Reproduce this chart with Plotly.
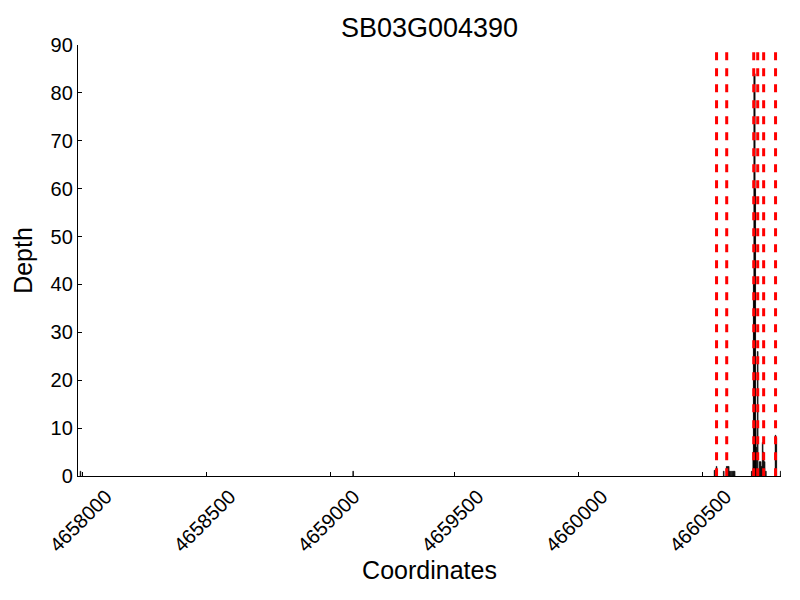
import plotly.graph_objects as go

# coverage depth along the gene (bp position -> read depth)
positions = [4657990, 4659090, 4660548, 4660556, 4660585, 4660597, 4660601, 4660605,
             4660609, 4660614, 4660619, 4660624, 4660629, 4660698, 4660704, 4660706,
             4660708, 4660710, 4660712, 4660714, 4660716, 4660722, 4660730, 4660734,
             4660738, 4660742, 4660746, 4660750, 4660755, 4660794, 4660797, 4660815]
depths = [1, 1, 1.2, 2, 1, 2, 2, 2,
          1, 1, 1, 1, 1, 1, 5, 40,
          84, 84, 60, 10, 6, 26, 3, 3,
          2, 7, 5, 3, 1, 8.5, 8, 1]

# exon boundaries (red dashed lines)
boundaries = [4660556, 4660597, 4660706, 4660722, 4660746, 4660794]
line_top = 88.5

xticks = [4658000, 4658500, 4659000, 4659500, 4660000, 4660500]
yticks = [0, 10, 20, 30, 40, 50, 60, 70, 80, 90]

fig = go.Figure()
fig.add_trace(go.Bar(x=positions, y=depths, width=3,
                     marker=dict(color="black", line=dict(color="black", width=0.6))))

for b in boundaries:
    # drawn top-down so the dash pattern starts at the top like the original
    fig.add_trace(go.Scatter(x=[b, b], y=[line_top, 0], mode="lines",
                             line=dict(color="red", width=3, dash="8px,8px")))

# the page body adds an 8px offset, margins are shifted to compensate
fig.update_layout(
    width=800, height=600,
    margin=dict(l=70, r=27, t=37, b=132, autoexpand=False),
    plot_bgcolor="white", paper_bgcolor="white",
    showlegend=False,
    font=dict(family="Liberation Sans, Arial, sans-serif", color="black", size=20),
    title=dict(text="SB03G004390", x=0.5, xref="paper", y=1 - 20 / 600, yanchor="middle",
               font=dict(size=27)),
)
fig.update_xaxes(range=[4657980, 4660816], tickvals=xticks, ticktext=[str(t) for t in xticks],
                 tickangle=-45, ticklabelshift=23, ticks="inside", ticklen=4, tickcolor="black",
                 showline=True, linecolor="black", linewidth=1.3, showgrid=False, zeroline=False,
                 automargin=False,
                 title=dict(text="Coordinates", font=dict(size=25), standoff=0),
                 tickfont=dict(size=20))
fig.update_yaxes(range=[0, 90], tickvals=yticks, ticks="inside", ticklen=4, tickcolor="black",
                 showline=True, linecolor="black", linewidth=1.3, showgrid=False, zeroline=False,
                 automargin=False,
                 title=dict(text="Depth", font=dict(size=25), standoff=10),
                 tickfont=dict(size=20))

fig.write_html("out.html")
